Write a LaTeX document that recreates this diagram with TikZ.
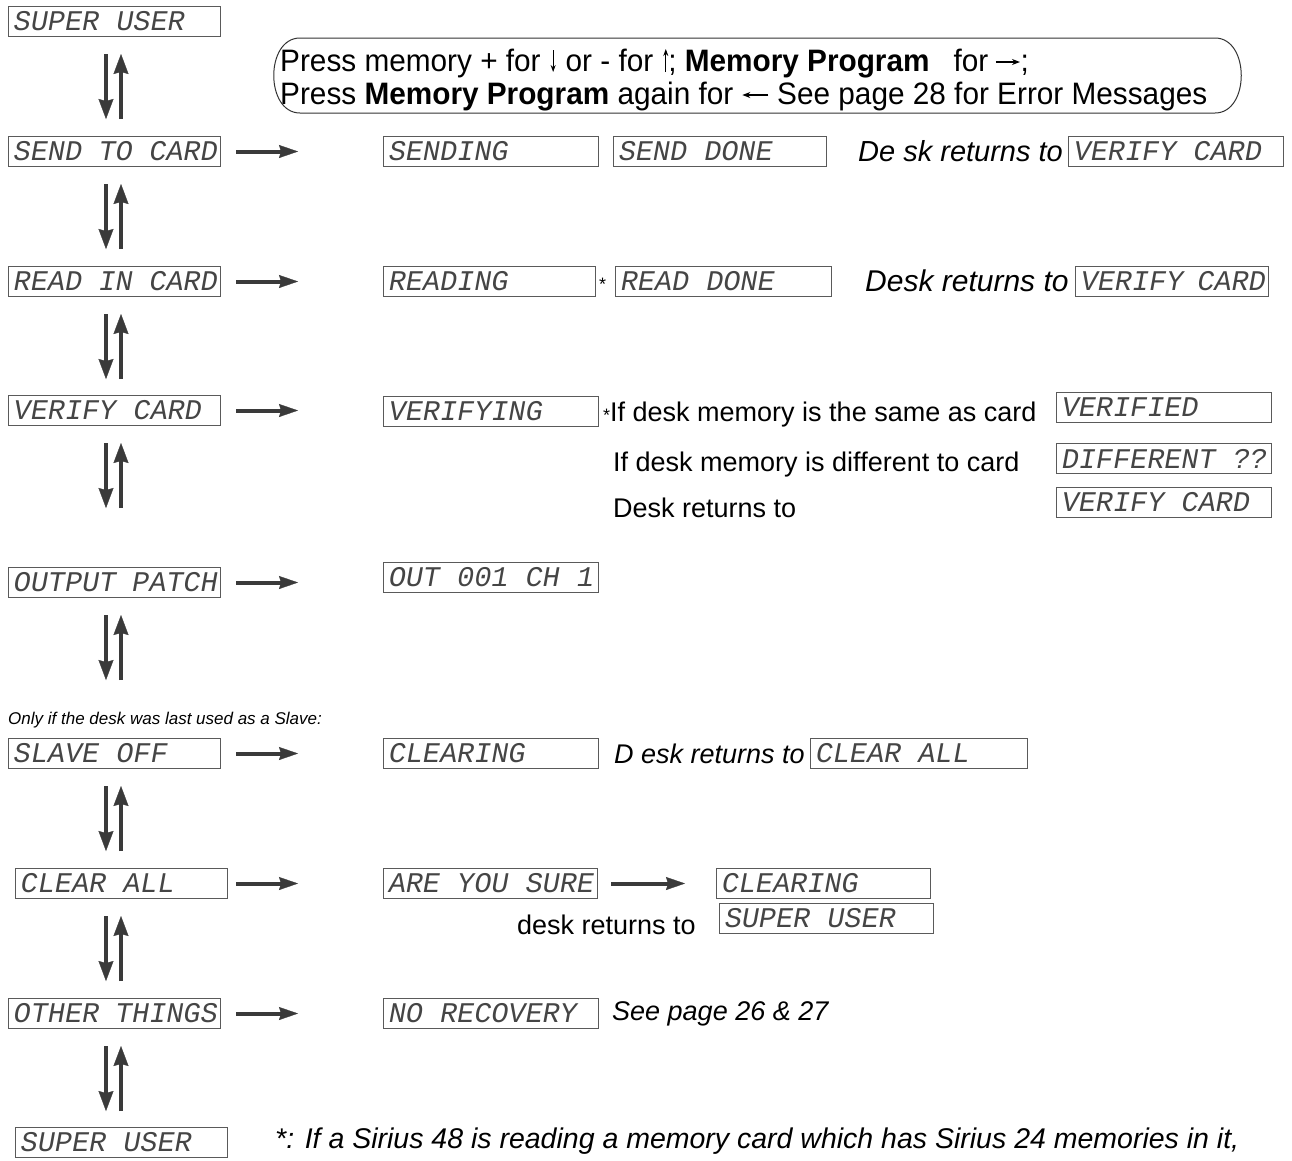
\documentclass[tikz,border=0pt]{standalone}
\usepackage{fontspec}
\setmainfont{Liberation Sans}
\newfontfamily\lcdfont[FakeSlant=0.18]{Liberation Mono}
\newfontfamily\notefont[FakeStretch=0.96]{Liberation Sans}
\usetikzlibrary{arrows.meta,calc}
\definecolor{arr}{HTML}{3A3A3A}
\definecolor{lcdtext}{HTML}{454545}
\definecolor{lcdframe}{HTML}{5A5A5A}
\tikzset{
  lcd/.style={draw=lcdframe, line width=1pt, fill=white, anchor=north west,
    minimum height=30pt, inner xsep=4pt, inner ysep=0pt,
    font=\lcdfont\fontsize{28.5}{30}\selectfont, text=lcdtext},
  varrow/.style={draw=arr, line width=4pt, -{Stealth[length=20pt,width=15pt,inset=2pt,line width=0.3pt]}},
  harrow/.style={draw=arr, line width=4pt, -{Stealth[length=19pt,width=13pt,inset=2pt,line width=0.3pt]}},
  txt/.style={anchor=base west, inner sep=0pt, font=\fontsize{27}{32}\selectfont},
  itxt/.style={txt, font=\fontsize{27}{32}\selectfont\itshape},
}
\newcommand\lcdbox[5]{\node[lcd, minimum width=#4pt] (#1) at (#2,#3) {\hbox to \dimexpr#4pt-8pt\relax{#5\hfil}};}
\newcommand\dnarr{\tikz[baseline=0pt,x=1pt,y=1pt]\draw[line width=1pt,-{Stealth[length=7pt,width=5pt]}] (0,21)--(0,-1);}
\newcommand\uparr{\tikz[baseline=0pt,x=1pt,y=1pt]\draw[line width=1pt,-{Stealth[length=7pt,width=5pt]}] (0,-1)--(0,22);}
\newcommand\rtarr{\tikz[baseline=0pt,x=1pt,y=1pt]\draw[line width=1.3pt,-{Stealth[length=8pt,width=6pt]}] (0,9)--(24,9);}
\newcommand\ltarr{\tikz[baseline=0pt,x=1pt,y=1pt]\draw[line width=1.3pt,-{Stealth[length=8pt,width=6pt]}] (26,9)--(0,9);}
\begin{document}
\begin{tikzpicture}[x=1pt,y=-1pt]
\useasboundingbox[fill=white] (0,0) rectangle (1292,1160);
\coordinate (dx) at (106,0);
\coordinate (ux) at (121,0);
% left column
\lcdbox{su1}{8}{6}{212}{SUPER USER}
\lcdbox{send}{8}{136}{212}{SEND TO CARD}
\lcdbox{read}{8}{266}{212}{READ IN CARD}
\lcdbox{verify}{8}{395}{212}{VERIFY CARD}
\lcdbox{output}{8}{567}{212}{OUTPUT PATCH}
\lcdbox{slave}{8}{738}{212}{SLAVE OFF}
\lcdbox{clear}{15}{868}{212}{CLEAR ALL}
\lcdbox{other}{8}{998}{212}{OTHER THINGS}
\lcdbox{su2}{15}{1127}{212}{SUPER USER}
% right side displays
\lcdbox{sending}{383}{136}{215}{SENDING}
\lcdbox{senddone}{613}{136}{213}{SEND DONE}
\lcdbox{vca}{1068}{136}{215}{VERIFY CARD}
\lcdbox{reading}{383}{266}{212}{READING}
\lcdbox{readdone}{615}{266}{216}{READ DONE}
\lcdbox{vcb}{1075}{266}{193}{VERIFY CARD}
\lcdbox{verifying}{383}{396}{215}{VERIFYING}
\lcdbox{verified}{1056}{392}{215}{VERIFIED}
\lcdbox{different}{1056}{443}{215}{DIFFERENT ??}
\lcdbox{vcc}{1056}{487}{215}{VERIFY CARD}
\lcdbox{outch}{383}{562}{215}{OUT 001 CH 1}
\lcdbox{clearinga}{383}{738}{215}{CLEARING}
\lcdbox{clearallb}{810}{738}{217}{CLEAR ALL}
\lcdbox{areyousure}{383}{868}{214}{ARE YOU SURE}
\lcdbox{clearingb}{716}{868}{214}{CLEARING}
\lcdbox{suc}{719}{903}{214}{SUPER USER}
\lcdbox{norecovery}{383}{998}{215}{NO RECOVERY}
% vertical arrow pairs
\foreach \n in {su1,send,read,verify,output,slave,clear,other}{
  \draw[varrow] ($(\n.south -| dx)+(0,17)$) -- ++(0,65);
  \draw[varrow] ($(\n.south -| ux)+(0,82)$) -- ++(0,-65);
}
% horizontal arrows
\draw[harrow, shorten <=15pt, shorten >=85pt] (send.east) -- (sending.west);
\draw[harrow, shorten <=15pt, shorten >=85pt] (read.east) -- (read.east -| reading.west);
\draw[harrow, shorten <=15pt, shorten >=85pt] (verify.east) -- (verify.east -| verifying.west);
\draw[harrow, shorten <=15pt, shorten >=85pt] (output.east) -- (output.east -| outch.west);
\draw[harrow, shorten <=15pt, shorten >=85pt] (slave.east) -- (clearinga.west);
\draw[harrow, shorten <=8pt, shorten >=85pt] (clear.east) -- (areyousure.west);
\draw[harrow, shorten <=15pt, shorten >=85pt] (other.east) -- (norecovery.west);
\draw[harrow, shorten <=13pt, shorten >=31pt] (areyousure.east) -- (clearingb.west);
% instruction bubble
\node[anchor=base west, inner sep=0pt, align=left, font=\notefont\fontsize{31}{33}\selectfont] (note) at (280,104)
  {Press memory + for\hspace{10pt}\dnarr\hspace{10pt}or - for\hspace{10pt}\uparr; \textbf{Memory Program}\hspace{24pt}for\hspace{7pt}\rtarr;\\
   Press \textbf{Memory Program} again for \ltarr{} See page 28 for Error Messages};
\draw[line width=1pt, draw=black!80] (300,38) -- (1215,38) .. controls (1250,38) and (1250,113) .. (1215,113)
  -- (300,113) .. controls (265,113) and (265,38) .. (300,38) -- cycle;
% texts
\node[itxt, font=\fontsize{29}{32}\selectfont\itshape] (t1) at (858,161) {De sk returns to};
\node[txt, font=\fontsize{18}{18}\selectfont] (st1) at (599,290) {*};
\node[itxt, font=\fontsize{30}{32}\selectfont\itshape] (t2) at (865,291) {Desk returns to};
\node[txt] (t3) at (603,421) {{\fontsize{18}{18}\selectfont*}If desk memory is the same as card};
\node[txt] (t4) at (613,471) {If desk memory is different to card};
\node[txt] (t5) at (613,517) {Desk returns to};
\node[itxt, font=\fontsize{17}{20}\selectfont\itshape] (t6) at (8,724) {Only if the desk was last used as a Slave:};
\node[itxt] (t7) at (614,763) {D esk returns to};
\node[txt] (t8) at (517,934) {desk returns to};
\node[itxt] (t9) at (612,1020) {See page 26 \& 27};
\node[itxt, font=\fontsize{28.5}{32}\selectfont\itshape] (t10) at (275,1148) {*: If a Sirius 48 is reading a memory card which has Sirius 24 memories in it,};
\end{tikzpicture}
\end{document}
